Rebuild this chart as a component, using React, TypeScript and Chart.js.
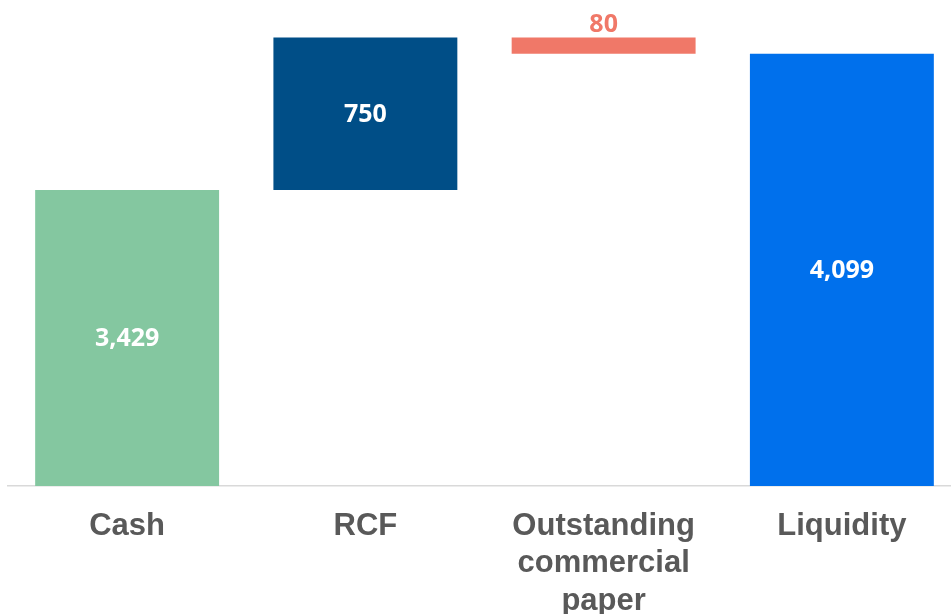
import React, { useEffect, useRef } from "react";
import { Chart, registerables } from "chart.js";

Chart.register(...registerables);

const categories: (string | string[])[] = ["Cash", "RCF", ["Outstanding", "commercial", "paper"], "Liquidity"];
const amounts = [3429, 750, -80, 4099];
const kinds = ["start", "increase", "decrease", "total"];
const barColors = ["#84C7A0", "#004E87", "#F07868", "#0070EC"];
const labelColors = ["#FFFFFF", "#FFFFFF", "#F07868", "#FFFFFF"];
const labelPlacement = ["inside", "inside", "above", "inside"];
const axisMin = 1975;
const axisMax = 4363;

function buildRanges(): [number, number][] {
  let running = 0;
  return amounts.map((v, i) => {
    const k = kinds[i];
    if (k === "start" || k === "total") {
      running = v;
      return [0, v];
    }
    const start = running;
    running = running + v;
    return [Math.min(start, running), Math.max(start, running)];
  });
}

const valueLabelPlugin = {
  id: "valueLabels",
  afterDatasetsDraw(chart: any) {
    const { ctx, chartArea } = chart;
    const meta = chart.getDatasetMeta(0);
    ctx.save();
    ctx.font = "bold 25px 'Open Sans'";
    ctx.textAlign = "center";
    ctx.textBaseline = "middle";
    meta.data.forEach((bar: any, i: number) => {
      const { x, y, base } = bar.getProps(["x", "y", "base"], true);
      const top = Math.max(Math.min(y, base), chartArea.top);
      const bottom = Math.min(Math.max(y, base), chartArea.bottom);
      const text = Math.abs(amounts[i]).toLocaleString("en-US");
      ctx.fillStyle = labelColors[i];
      if (labelPlacement[i] === "above") {
        ctx.fillText(text, x, top - 13);
      } else {
        ctx.fillText(text, x, (top + bottom) / 2 + 1);
      }
    });
    ctx.restore();
  },
};

export default function App() {
  const canvasRef = useRef<HTMLCanvasElement>(null);

  useEffect(() => {
    if (!canvasRef.current) return;
    const chart = new Chart(canvasRef.current, {
      type: "bar",
      data: {
        labels: categories,
        datasets: [
          {
            data: buildRanges() as any,
            backgroundColor: barColors,
            borderWidth: 0,
            borderSkipped: false,
            categoryPercentage: 1,
            barPercentage: 0.772,
          },
        ],
      },
      options: {
        animation: false,
        responsive: true,
        maintainAspectRatio: false,
        layout: { padding: { left: 8, right: 0, top: 0, bottom: 0 } },
        plugins: {
          legend: { display: false },
          tooltip: { enabled: false },
          title: { display: false },
        },
        scales: {
          x: {
            grid: { display: false, drawTicks: false },
            border: { display: true, color: "#D9D9D9", width: 1.5 },
            ticks: {
              color: "#595959",
              font: { family: "'Liberation Sans', Arial, sans-serif", size: 31, weight: "bold", lineHeight: 1.2 },
              padding: 22,
              maxRotation: 0,
              autoSkip: false,
            },
            afterFit: (s: any) => {
              s.height = 128;
            },
          },
          y: {
            display: false,
            min: axisMin,
            max: axisMax,
          },
        },
      },
      plugins: [valueLabelPlugin],
    });
    return () => chart.destroy();
  }, []);

  return (
    <div style={{ position: "fixed", left: 0, top: 0, width: 951, height: 614, overflow: "hidden", background: "#fff" }}>
      <div style={{ position: "absolute", left: 0, top: 0, width: 961, height: 614 }}>
        <canvas ref={canvasRef} />
      </div>
    </div>
  );
}
